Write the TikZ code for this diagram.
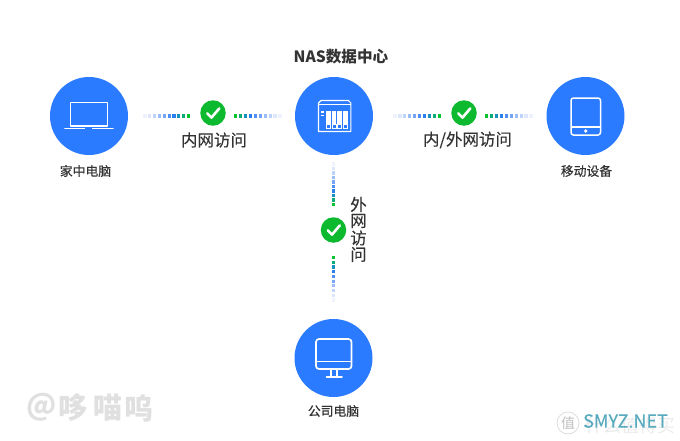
\documentclass[tikz,border=0pt]{standalone}
\usepackage{fontspec}
\usetikzlibrary{calc}
\setmainfont{Noto Sans CJK SC}
\definecolor{hubblue}{HTML}{2A7BFF}
\definecolor{okgreen}{HTML}{0DB92F}
\definecolor{inktext}{HTML}{333333}
\definecolor{dcA}{HTML}{EDF2FD}
\definecolor{dcB}{HTML}{DCE7FC}
\definecolor{dcC}{HTML}{BDD3FB}
\definecolor{dcD}{HTML}{9CBDF9}
\definecolor{dcE}{HTML}{76A5F7}
\definecolor{dcF}{HTML}{4F8EF5}
\definecolor{dcG}{HTML}{2A80EE}
\definecolor{dcH}{HTML}{1A90BC}
\definecolor{dcI}{HTML}{0DAB76}
\definecolor{dcJ}{HTML}{08C22F}
\tikzset{
  hub/.style={circle,fill=hubblue,draw=none,minimum size=78pt,inner sep=0pt},
  okmark/.style={circle,fill=okgreen,draw=none,minimum size=25.5pt,inner sep=0pt},
  tick/.style={draw=white,line width=2.6pt,line cap=round,line join=round},
  icon/.style={draw=white,line width=1.3pt,line join=round},
  caption/.style={inner sep=0pt,text=inktext,font=\fontsize{12.8}{14}\selectfont\addfontfeature{FakeBold=0.5}},
  netlabel/.style={inner sep=0pt,text=inktext,font=\fontsize{16.5}{18}\selectfont\addfontfeature{FakeBold=0.2}},
  wmark/.style={inner sep=0pt,text=black!12,font=\fontsize{29}{31}\selectfont\bfseries},
}
% faded end -> green end
\newcommand{\dotrun}[2]{%
  \foreach \k/\c in {0/dcA,1/dcB,2/dcC,3/dcD,4/dcE,5/dcF,6/dcG,7/dcH,8/dcI,9/dcJ}{%
    \fill[\c] ($(#1)!{\k/9}!(#2)$) ++(-1.6pt,-1.6pt) rectangle ++(3.2pt,3.2pt);
  }%
}
\newcommand{\checkmk}[1]{%
  \draw[tick] ($(#1)+(-5.8,0.3)$) -- ($(#1)+(-1.5,4.6)$) -- ($(#1)+(6.3,-4.6)$);
}
\begin{document}
\begin{tikzpicture}[x=1pt,y=-1pt]
\useasboundingbox (0,0) rectangle (680,440);
\fill[white] (0,0) rectangle (680,440);

% hubs
\node[hub] (home) at (89,116) {};
\node[hub] (nas) at (334,116) {};
\node[hub] (mobile) at (585.5,116) {};
\node[hub] (office) at (333.5,358) {};

% captions
\node[inner sep=0pt,text=inktext,font=\fontsize{15.6}{17}\selectfont\bfseries] (nastitle) at (341,57) {NAS数据中心};
\node[caption] (homecap) at (85.5,171) {家中电脑};
\node[caption] (mobilecap) at (586.5,171) {移动设备};
\node[caption] (officecap) at (333.5,411) {公司电脑};

% checks
\node[okmark] (okL) at (213,113) {};
\node[okmark] (okR) at (464,113) {};
\node[okmark] (okB) at (333.5,230) {};
\checkmk{okL}
\checkmk{okR}
\checkmk{okB}

% net labels
\node[netlabel] (labL) at (214,140) {内网访问};
\node[netlabel] (labR) at (467.5,140) {内/外网访问};
\node[netlabel] (labB1) at (358.5,204.5) {外};
\node[netlabel] (labB2) at (358.5,221) {网};
\node[netlabel] (labB3) at (358.5,238) {访};
\node[netlabel] (labB4) at (358.5,254.5) {问};

% dotted links
\coordinate (a1) at (145,116); \coordinate (a2) at (188.5,116);
\coordinate (b1) at (280,116); \coordinate (b2) at (235.5,116);
\coordinate (c1) at (395,116); \coordinate (c2) at (439.5,116);
\coordinate (d1) at (531,116); \coordinate (d2) at (486.5,116);
\coordinate (e1) at (333.5,164); \coordinate (e2) at (333.5,204.5);
\coordinate (f1) at (333.5,300); \coordinate (f2) at (333.5,257.5);
\dotrun{a1}{a2}
\dotrun{b1}{b2}
\dotrun{c1}{c2}
\dotrun{d1}{d2}
\dotrun{e1}{e2}
\dotrun{f1}{f2}

% laptop
\draw[icon] (70.5,102.5) rectangle (107.5,126);
\draw[white,line width=1.8pt,line cap=round] (65,128.5) -- (113,128.5);
\fill[hubblue] (85,128.2) rectangle (92,129.2);

% NAS
\draw[icon,line width=1.1pt] (318.5,103) -- (321,100.5) -- (348.5,100.5) -- (350.8,103) -- (350.8,131.5) -- (318.5,131.5) -- cycle;
\draw[white,line width=0.9pt] (318.5,104.6) -- (350.8,104.6);
\foreach \x in {326.2,331.8,337.4,343}{
  \fill[white] (\x,110.5) rectangle ++(4.5,14);
  \draw[white,line width=0.7pt] (\x+0.3,124.5) rectangle ++(3.9,4);
}
\fill[white] (320.6,111) rectangle ++(3,1.5);
\fill[white] (320.6,114.5) rectangle ++(3,1.5);

% tablet
\draw[icon,line width=1.5pt,rounded corners=2.5pt] (571,98) rectangle (600.5,135);
\draw[icon,line width=1.5pt] (571,127) -- (600.5,127);
\fill[white] (585.7,131) circle (1.8pt);

% monitor
\draw[icon,line width=1.7pt,rounded corners=3pt] (316,339) rectangle (351.5,369);
\draw[icon,line width=1.7pt] (316,361.5) -- (351.5,361.5);
\draw[icon,line width=1.6pt] (331,369) -- (331,377);
\draw[icon,line width=1.6pt] (337,369) -- (337,377);
\draw[white,line width=1.9pt,line cap=round] (326.5,377) -- (342,377);

% watermarks
\node[wmark] (wmAt) at (41.5,407) {@};
\node[wmark] (wmDuo) at (72.5,408) {哆};
\node[wmark] (wmMiao) at (107.5,408) {喵};
\node[wmark] (wmWu) at (139,408) {呜};
\node[circle,draw=black!15,line width=0.7pt,minimum size=22pt,inner sep=0pt,text=black!25,font=\fontsize{14}{15}\selectfont] (wmB) at (568,423) {值};
\node[inner sep=0pt,text=black!8,font=\fontsize{18}{20}\selectfont] (wmC) at (630,426) {什么值得买};
\node[inner sep=0pt,text={rgb,255:red,88;green,170;blue,190},font=\fontsize{18}{20}\selectfont\addfontfeature{FakeBold=0.2}] (wmD) at (625.5,421) {SMYZ.NET};
\end{tikzpicture}
\end{document}
